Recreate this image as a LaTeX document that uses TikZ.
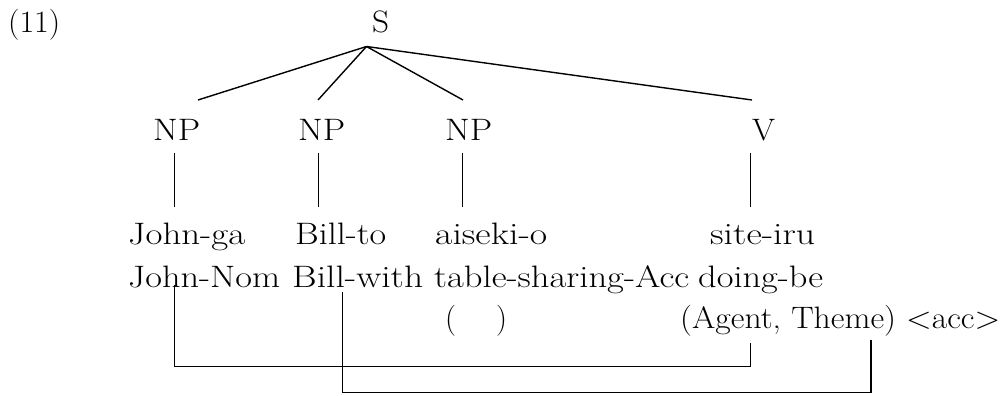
\documentclass[tikz,border=0pt]{standalone}
\usepackage{graphicx}
\newcommand{\fitw}[2]{\resizebox{#1pt}{\height}{#2}}
\begin{document}
\begin{tikzpicture}[x=1pt,y=-1pt,
  lbl/.style={inner sep=0pt, anchor=base west, font=\fontsize{31}{37}\selectfont},
  edge/.style={line width=1.4pt, line cap=butt},
  link/.style={line width=1.4pt, line join=miter}]
\useasboundingbox (0,0) rectangle (1002,396);
% labels
\node[lbl] (num) at (8,33) {\fitw{52}{(11)}};
\node[lbl] (S) at (372,33) {\fitw{17}{S}};
\node[lbl] (np1) at (153,140) {\fitw{47}{NP}};
\node[lbl] (np2) at (298,140) {\fitw{47}{NP}};
\node[lbl] (np3) at (445,140) {\fitw{47}{NP}};
\node[lbl] (v) at (752,140) {\fitw{23}{V}};
% words, row 1
\node[lbl] (w1) at (128,244) {\fitw{117}{John-ga}};
\node[lbl] (w2) at (295,244) {\fitw{91}{Bill-to}};
\node[lbl] (w3) at (435,244) {\fitw{112}{aiseki-o}};
\node[lbl] (w4) at (710,244) {\fitw{105}{site-iru}};
% glosses, row 2
\node[lbl] (g1) at (128,287) {\fitw{152}{John-Nom}};
\node[lbl] (g2) at (292,287) {\fitw{131}{Bill-with}};
\node[lbl] (g3) at (434,287) {\fitw{255}{table-sharing-Acc}};
\node[lbl] (g4) at (698,287) {\fitw{125}{doing-be}};
% row 3
\node[lbl] (p1) at (445,328) {\fitw{62}{(\hspace{40pt})}};
\node[lbl] (p2) at (680,328) {\fitw{320}{(Agent, Theme) <acc>}};
% tree coordinates
\coordinate (apex) at (366.5,46.5);
\coordinate (e1) at (198,100);
\coordinate (e2) at (318,100);
\coordinate (e3) at (463,100);
\coordinate (e4) at (752,100);
\coordinate (t1) at (174.3,153);
\coordinate (b1) at (174.3,207);
\coordinate (t2) at (318.3,153);
\coordinate (b2) at (318.3,207);
\coordinate (t3) at (462.3,153);
\coordinate (b3) at (462.3,207);
\coordinate (t4) at (750.7,153);
\coordinate (b4) at (750.7,207);
\draw[edge] (apex) -- (e1);
\draw[edge] (apex) -- (e2);
\draw[edge] (apex) -- (e3);
\draw[edge] (apex) -- (e4);
\draw[edge] (t1) -- (b1);
\draw[edge] (t2) -- (b2);
\draw[edge] (t3) -- (b3);
\draw[edge] (t4) -- (b4);
% linking brackets
\coordinate (la1) at (174.3,285);
\coordinate (la2) at (750.7,343);
\coordinate (lb1) at (342.3,292);
\coordinate (lb2) at (871,340);
\draw[link] (la1) |- (750.7,366.7) -- (la2);
\draw[link] (lb1) |- (871,392.7) -- (lb2);
\end{tikzpicture}
\end{document}
